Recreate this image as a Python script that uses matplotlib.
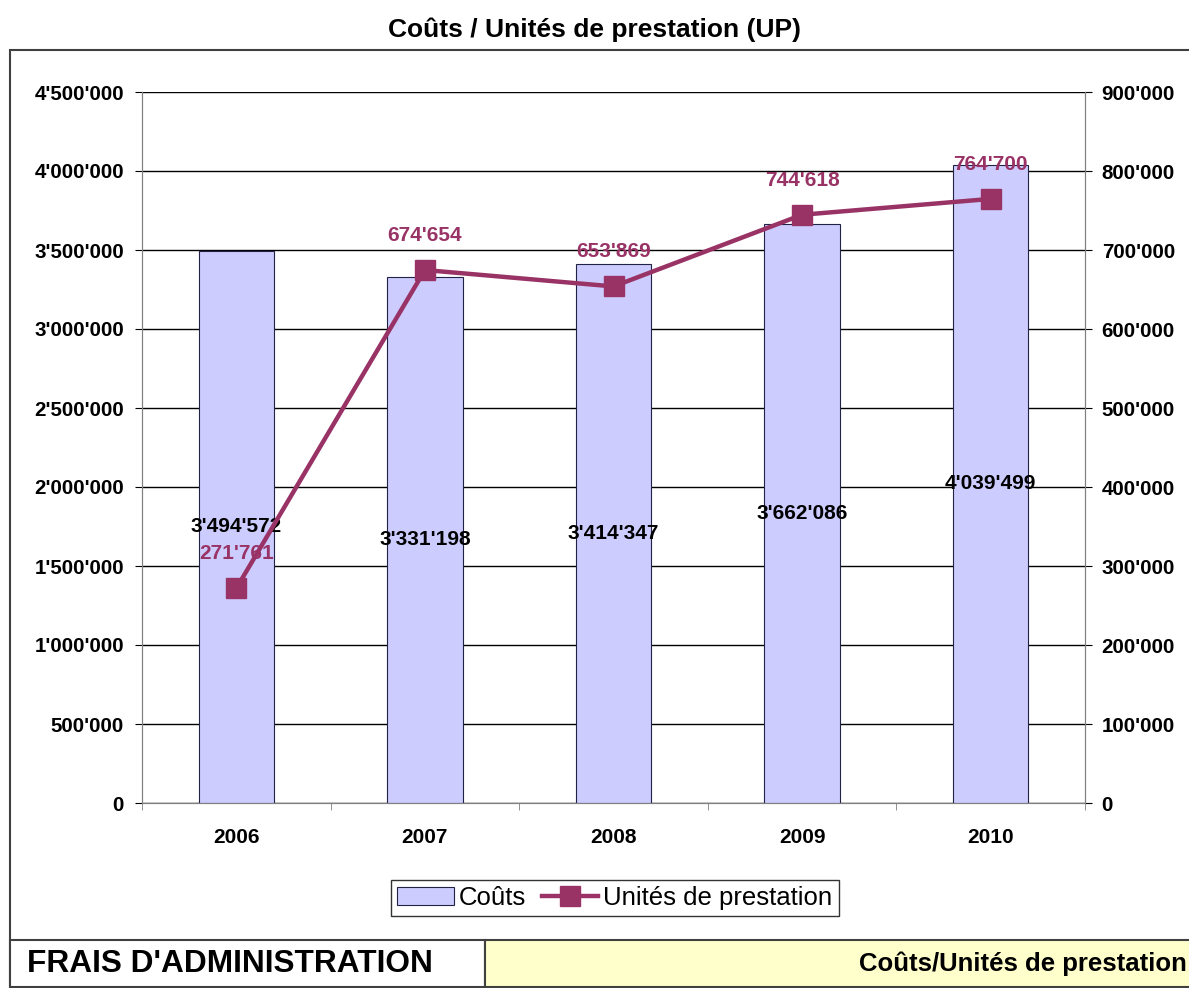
import matplotlib.pyplot as plt
from matplotlib.patches import Rectangle
from matplotlib.ticker import FuncFormatter, MultipleLocator
import numpy as np

plt.rcParams['font.family'] = ['Liberation Sans', 'DejaVu Sans']

# Données
annees = ['2006', '2007', '2008', '2009', '2010']
couts = [3494572, 3331198, 3414347, 3662086, 4039499]
unites = [271761, 674654, 653869, 744618, 764700]

couleur_barre = '#CCCCFF'
couleur_ligne = '#993366'


def fmt_suisse(v, pos=None):
    return f"{int(round(v)):,}".replace(',', "'")


W, H = 1189, 988
fig = plt.figure(figsize=(W / 100, H / 100), dpi=100)

# Cadre extérieur
fig.patches.append(Rectangle((10 / W, 0), 1.2, 1 - 50 / H, transform=fig.transFigure,
                             fill=False, edgecolor='#404040', lw=1.5, zorder=0))

ax = fig.add_axes([142 / W, 1 - 803 / H, 943 / W, 711 / H])
ax2 = ax.twinx()

x = np.arange(len(annees))
barres = ax.bar(x, couts, width=0.4, color=couleur_barre, edgecolor='#222244', lw=0.8,
                zorder=3, label='Coûts')
ax.set_xlim(-0.5, len(annees) - 0.5)
ax.set_ylim(0, 4500000)
ax.yaxis.set_major_locator(MultipleLocator(500000))
ax.yaxis.set_major_formatter(FuncFormatter(fmt_suisse))
ax.grid(axis='y', color='black', lw=1, zorder=0)
ax.set_axisbelow(True)

for xi, v in zip(x, couts):
    ax.text(xi, v / 2, fmt_suisse(v), ha='center', va='center', fontsize=15,
            fontweight='bold', color='black', zorder=6)

ligne, = ax2.plot(x, unites, color=couleur_ligne, lw=3.2, marker='s', markersize=14,
                  zorder=5, label='Unités de prestation')
ax2.set_ylim(0, 900000)
ax2.yaxis.set_major_locator(MultipleLocator(100000))
ax2.yaxis.set_major_formatter(FuncFormatter(fmt_suisse))
for xi, v in zip(x, unites):
    ax2.annotate(fmt_suisse(v), (xi, v), xytext=(0, 25), textcoords='offset points',
                 ha='center', va='center', fontsize=15, fontweight='bold',
                 color=couleur_ligne, zorder=7)

# Axes et graduations
ax.set_xticks(x)
ax.set_xticklabels(annees, fontsize=15, fontweight='bold')
ax.set_xticks(np.arange(-0.5, len(annees)), minor=True)
ax.tick_params(axis='x', which='major', length=0, pad=18)
ax.tick_params(axis='x', which='minor', length=5, direction='out', color='#808080')
ax.tick_params(axis='y', length=5, direction='out', pad=8, labelsize=14.8)
ax2.tick_params(axis='y', length=5, direction='out', pad=7, labelsize=14.8)
for t in ax.get_yticklabels() + ax2.get_yticklabels():
    t.set_fontweight('bold')

for a in (ax, ax2):
    a.spines['top'].set_visible(False)
    a.spines['left'].set_color('#808080')
    a.spines['right'].set_color('#808080')
    a.spines['bottom'].set_color('#808080')

fig.text(0.5, 1 - 30 / H, 'Coûts / Unités de prestation (UP)', ha='center', va='center',
         fontsize=19, fontweight='bold')

leg = fig.legend([barres, ligne], ['Coûts', 'Unités de prestation'], loc='center',
                 bbox_to_anchor=(615 / W, 1 - 898 / H), ncol=2, fontsize=18.5,
                 frameon=True, fancybox=False, edgecolor='black', handlelength=2.2,
                 handletextpad=0.2, columnspacing=0.6, borderpad=0.25)
leg.get_frame().set_linewidth(1)

# Bandeau du bas
y0 = 1 - 987 / H
h = 47 / H
fig.patches.append(Rectangle((10 / W, y0), 475 / W, h, transform=fig.transFigure,
                             facecolor='white', edgecolor='#404040', lw=1.5))
fig.patches.append(Rectangle((485 / W, y0), 720 / W, h, transform=fig.transFigure,
                             facecolor='#FFFFCC', edgecolor='#404040', lw=1.5))
fig.text(27 / W, y0 + h / 2, "FRAIS D'ADMINISTRATION", ha='left', va='center',
         fontsize=22.8, fontweight='bold')
fig.text(1187 / W, y0 + h / 2, 'Coûts/Unités de prestation', ha='right', va='center',
         fontsize=18.5, fontweight='bold')

fig.savefig('out.png', dpi=100)
